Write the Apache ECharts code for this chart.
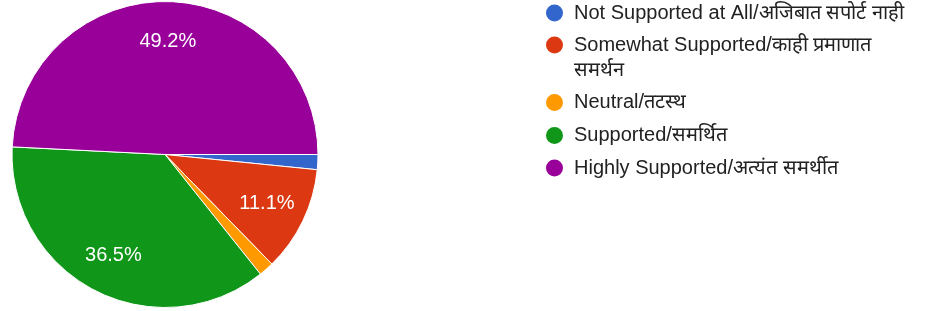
<!DOCTYPE html>
<html>
<head>
<meta charset="utf-8">
<script src="https://cdn.jsdelivr.net/npm/echarts@6/dist/echarts.min.js"></script>
<style>
html,body{margin:0;padding:0;background:#fff;}
#chart{width:929px;height:311px;}
</style>
</head>
<body>
<div id="chart"></div>
<script>
const categories = [
  'Not Supported at All/अजिबात सपोर्ट नाही',
  'Somewhat Supported/काही प्रमाणात समर्थन',
  'Neutral/तटस्थ',
  'Supported/समर्थित',
  'Highly Supported/अत्यंत समर्थीत'
];
const legendLabels = [
  'Not Supported at All/अजिबात सपोर्ट नाही',
  ' \nSomewhat Supported/काही प्रमाणात\nसमर्थन',
  'Neutral/तटस्थ',
  'Supported/समर्थित',
  'Highly Supported/अत्यंत समर्थीत'
];
const counts = [1, 7, 1, 23, 31];
const colors = ['#3366cc', '#dc3912', '#ff9900', '#109618', '#990099'];

const FONT = '"Liberation Sans", Arial, sans-serif';
const cx = 165, cy = 154.5, R = 153;
const legendCenters = [13, 45, 102.5, 135.5, 168];
const legendLines = [1, 3, 1, 1, 1];
const LH = 25;

const data = categories.map((c, i) => ({ name: c, value: counts[i], itemStyle: { color: colors[i] } }));

const legends = categories.map((c, i) => ({
  data: [c],
  orient: 'vertical',
  left: 544,
  top: legendCenters[i] - legendLines[i] * LH / 2,
  padding: 0,
  icon: 'circle',
  itemWidth: 19,
  itemHeight: 19,
  formatter: () => legendLabels[i],
  textStyle: { fontFamily: FONT, fontSize: 20, color: '#222222', lineHeight: LH, padding: [0, 0, 0, 5] }
}));

const chart = echarts.init(document.getElementById('chart'), null, { renderer: 'canvas' });
chart.setOption({
  animation: false,
  backgroundColor: '#ffffff',
  legend: legends,
  series: [
    {
      type: 'pie',
      center: [cx, cy],
      radius: R,
      startAngle: 0,
      clockwise: true,
      data: data,
      label: { show: false },
      labelLine: { show: false },
      itemStyle: { borderColor: '#ffffff', borderWidth: 1 }
    },
    {
      type: 'pie',
      center: [cx, cy],
      radius: [R * 0.44, R],
      startAngle: 0,
      clockwise: true,
      data: data.map(d => ({ name: d.name, value: d.value })),
      itemStyle: { color: 'rgba(0,0,0,0)' },
      emphasis: { disabled: true },
      silent: true,
      minShowLabelAngle: 10,
      label: {
        show: true,
        position: 'inside',
        color: '#ffffff',
        fontFamily: FONT,
        fontSize: 20,
        formatter: p => p.percent.toFixed(1) + '%'
      },
      labelLine: { show: false }
    }
  ]
});
</script>
</body>
</html>
